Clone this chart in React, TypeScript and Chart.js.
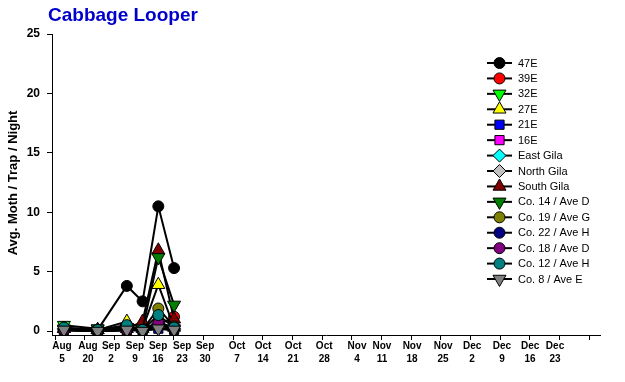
import React, { useEffect, useRef } from 'react';
import { Chart, registerables } from 'chart.js';
import { drawPoint } from 'chart.js/helpers';

Chart.register(...registerables);

// ---- data ----
const chartTitle = 'Cabbage Looper';
const yTitle = 'Avg. Moth / Trap / Night';
// sample dates (days after Aug 5): Aug 5, Aug 20, Sep 2, Sep 9, Sep 16, Sep 23
const sampleDates = ['Aug 5', 'Aug 20', 'Sep 2', 'Sep 9', 'Sep 16', 'Sep 23'];
const sampleDays = [0, 15, 28, 35, 42, 49];

const seriesNames = [
  '47E', '39E', '32E', '27E', '21E', '16E', 'East Gila', 'North Gila', 'South Gila',
  'Co. 14 / Ave D', 'Co. 19 / Ave G', 'Co. 22 / Ave H', 'Co. 18 / Ave D', 'Co. 12 / Ave H', 'Co. 8 / Ave E',
];
const v47E = [0.1, 0.1, 3.8, 2.5, 10.5, 5.3];
const v39E = [0.1, 0.0, 0.1, 0.2, 0.5, 1.2];
const v32E = [0.5, 0.2, 0.3, 0.1, 0.3, 0.2];
const v27E = [0.2, 0.1, 0.8, 0.2, 3.9, 0.3];
const v21E = [0.1, 0.0, 0.1, 0.1, 0.2, 0.1];
const v16E = [0.1, 0.0, 0.1, 0.1, 0.8, 0.2];
const vEastGila = [0.2, 0.1, 0.2, 0.1, 0.6, 0.2];
const vNorthGila = [0.1, 0.1, 0.1, 0.1, 0.3, 0.1];
const vSouthGila = [0.2, 0.1, 0.2, 0.8, 6.8, 1.0];
const vCo14 = [0.2, 0.2, 0.3, 0.2, 6.2, 2.2];
const vCo19 = [0.1, 0.1, 0.2, 0.1, 1.9, 0.4];
const vCo22 = [0.1, 0.0, 0.1, 0.1, 0.5, 0.2];
const vCo18 = [0.1, 0.0, 0.1, 0.1, 0.7, 0.3];
const vCo12 = [0.3, 0.1, 0.5, 0.1, 1.35, 0.3];
const vCo8 = [0.1, 0.0, 0.1, 0.0, 0.2, 0.1];
const seriesValues = [v47E, v39E, v32E, v27E, v21E, v16E, vEastGila, vNorthGila, vSouthGila, vCo14, vCo19, vCo22, vCo18, vCo12, vCo8];

// tick labels of the date axis and where they sit (days after Aug 5)
const xTickLabels = [
  ['Aug', '5'], ['Aug', '20'], ['Sep', '2'], ['Sep', '9'], ['Sep', '16'], ['Sep', '23'], ['Sep', '30'],
  ['Oct', '7'], ['Oct', '14'], ['Oct', '21'], ['Oct', '28'], ['Nov', '4'], ['Nov', '11'], ['Nov', '18'],
  ['Nov', '25'], ['Dec', '2'], ['Dec', '9'], ['Dec', '16'], ['Dec', '23'],
];
const xTickLabelDays = [-0.85, 10.7, 21.0, 31.6, 41.9, 52.6, 62.8, 77.0, 88.6, 102.0, 115.8, 130.4, 141.5, 154.9, 168.7, 181.6, 194.9, 207.4, 218.5];
const xTickMarkStart = -3.96;
const xTickMarkStep = 13.2;
const xTickMarkCount = 19;
const xMin = -5.3;
const xMax = 238.5;
const yTicks = [0, 5, 10, 15, 20, 25];
const yMin = -0.33;
const yMax = 25;

// ---- styles ----
const markerStyles = [
  { color: '#000000', shape: 'circle', rot: 0, r: 5.5 },
  { color: '#FF0000', shape: 'circle', rot: 0, r: 5.5 },
  { color: '#00FF00', shape: 'triangle', rot: 180, r: 7.5 },
  { color: '#FFFF00', shape: 'triangle', rot: 0, r: 7.5 },
  { color: '#0000FF', shape: 'rect', rot: 0, r: 6.5 },
  { color: '#FF00FF', shape: 'rect', rot: 0, r: 6.5 },
  { color: '#00FFFF', shape: 'rectRot', rot: 0, r: 6.5 },
  { color: '#C0C0C0', shape: 'rectRot', rot: 0, r: 6.5 },
  { color: '#800000', shape: 'triangle', rot: 0, r: 7.5 },
  { color: '#008000', shape: 'triangle', rot: 180, r: 7.5 },
  { color: '#808000', shape: 'circle', rot: 0, r: 5.5 },
  { color: '#000080', shape: 'circle', rot: 0, r: 5.5 },
  { color: '#800080', shape: 'circle', rot: 0, r: 5.5 },
  { color: '#008080', shape: 'circle', rot: 0, r: 5.5 },
  { color: '#808080', shape: 'triangle', rot: 180, r: 7.5 },
];

const FONT = 'Arial, "Liberation Sans", sans-serif';

const overlayPlugin = {
  id: 'overlay',
  afterDraw(chart: any) {
    const ctx: CanvasRenderingContext2D = chart.ctx;
    ctx.save();
    // title
    ctx.fillStyle = '#0000CC';
    ctx.font = `bold 19px ${FONT}`;
    ctx.textAlign = 'left';
    ctx.textBaseline = 'alphabetic';
    ctx.fillText(chartTitle, 48, 21);
    ctx.restore();

    // y title
    ctx.save();
    ctx.translate(13, 183);
    ctx.rotate(-Math.PI / 2);
    ctx.fillStyle = '#000';
    ctx.font = `bold 13px ${FONT}`;
    ctx.textAlign = 'center';
    ctx.textBaseline = 'middle';
    ctx.fillText(yTitle, 0, 0);
    ctx.restore();

    // legend
    ctx.save();
    seriesNames.forEach((name, i) => {
      const st = markerStyles[i];
      const y = 63 + i * 15.43;
      ctx.strokeStyle = '#000';
      ctx.lineWidth = 2;
      ctx.beginPath();
      ctx.moveTo(487, y);
      ctx.lineTo(512, y);
      ctx.stroke();
      ctx.fillStyle = st.color;
      ctx.strokeStyle = '#000';
      ctx.lineWidth = 1;
      drawPoint(ctx, { pointStyle: st.shape, rotation: st.rot, radius: st.r, borderWidth: 1 } as any, 499.5, y);
      ctx.fillStyle = '#000';
      ctx.font = `11px ${FONT}`;
      ctx.textAlign = 'left';
      ctx.textBaseline = 'middle';
      ctx.fillText(name, 518, y + 0.5);
    });
    ctx.restore();
  },
};

export default function App() {
  const canvasRef = useRef<HTMLCanvasElement | null>(null);

  useEffect(() => {
    if (!canvasRef.current) return;
    const datasets = seriesNames.map((name, i) => ({
      label: name,
      data: sampleDays.map((d, j) => ({ x: d, y: seriesValues[i][j] })),
      borderColor: '#000',
      borderWidth: 2,
      backgroundColor: markerStyles[i].color,
      pointBackgroundColor: markerStyles[i].color,
      pointBorderColor: '#000',
      pointBorderWidth: 1,
      pointStyle: markerStyles[i].shape,
      pointRotation: markerStyles[i].rot,
      pointRadius: markerStyles[i].r,
      tension: 0,
      fill: false,
      order: seriesNames.length - i,
    }));

    const chart = new Chart(canvasRef.current, {
      type: 'line',
      data: { datasets } as any,
      plugins: [overlayPlugin],
      options: {
        responsive: false,
        animation: false,
        events: [],
        layout: { padding: { top: 34, right: 25, left: 0, bottom: 0 } },
        plugins: { legend: { display: false }, tooltip: { enabled: false }, title: { display: false } },
        scales: {
          x: {
            type: 'linear',
            position: 'bottom',
            min: xMin,
            max: xMax,
            weight: 0,
            afterBuildTicks: (s: any) => {
              s.ticks = Array.from({ length: xTickMarkCount }, (_, k) => ({ value: xTickMarkStart + k * xTickMarkStep }));
            },
            ticks: { display: false },
            grid: { drawOnChartArea: false, drawTicks: true, tickLength: 5, color: '#000', tickColor: '#000' },
            border: { display: true, color: '#000', width: 1 },
            afterFit: (s: any) => { s.height = 5; },
          },
          xl: {
            type: 'linear',
            position: 'bottom',
            min: xMin,
            max: xMax,
            weight: 1,
            afterBuildTicks: (s: any) => {
              s.ticks = xTickLabelDays.map((v) => ({ value: v }));
            },
            ticks: {
              autoSkip: false,
              maxRotation: 0,
              minRotation: 0,
              padding: 0,
              color: '#000',
              font: { family: FONT, size: 10, weight: 'bold', lineHeight: 1.25 },
              callback: (_v: any, i: number) => xTickLabels[i],
            },
            grid: { display: false, drawTicks: false },
            border: { display: false },
            afterFit: (s: any) => { s.height = 42; },
          },
          y: {
            type: 'linear',
            min: yMin,
            max: yMax,
            afterBuildTicks: (s: any) => {
              s.ticks = yTicks.map((v) => ({ value: v }));
            },
            ticks: { color: '#000', padding: 7, font: { family: FONT, size: 12, weight: 'bold' } },
            grid: { drawOnChartArea: false, drawTicks: true, tickLength: 5, color: '#000', tickColor: '#000' },
            border: { display: true, color: '#000', width: 1 },
            afterFit: (s: any) => { s.width = 52; },
          },
        },
      } as any,
    });
    return () => chart.destroy();
  }, []);

  return (
    <div style={{ position: 'fixed', left: 0, top: 0, width: 625, height: 382, background: '#fff' }}>
      <canvas ref={canvasRef} width={625} height={382} style={{ display: 'block', width: 625, height: 382 }} />
    </div>
  );
}
